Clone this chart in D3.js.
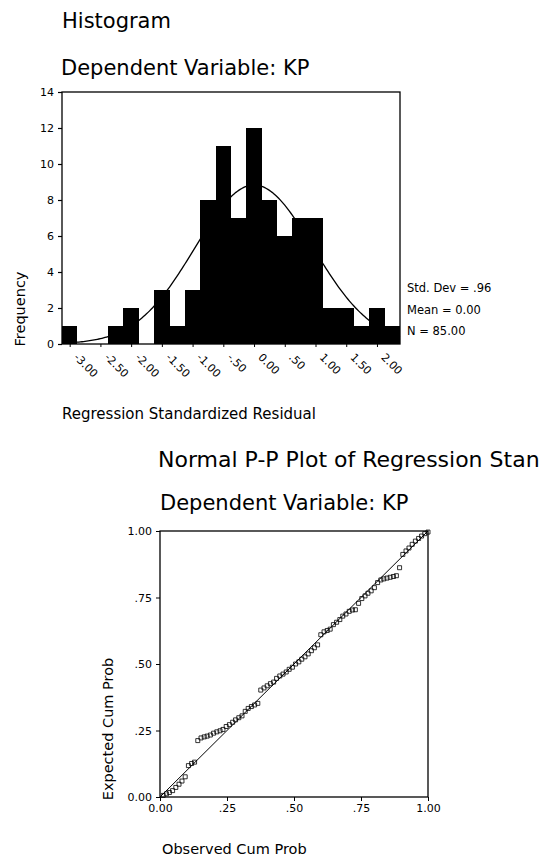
<!DOCTYPE html>
<html>
<head>
<meta charset="utf-8">
<script src="https://cdnjs.cloudflare.com/ajax/libs/d3/7.8.5/d3.min.js"></script>
<style>
body{margin:0;background:#fff;}
svg{display:block;}
text{font-family:"DejaVu Sans",sans-serif;fill:#000;}
</style>
</head>
<body>
<script>
var w = 540;
var h = 856;

// histogram: bin midpoints and frequencies
var binMids = [-3.00,-2.75,-2.50,-2.25,-2.00,-1.75,-1.50,-1.25,-1.00,-0.75,-0.50,-0.25,
               0.00,0.25,0.50,0.75,1.00,1.25,1.50,1.75,2.00,2.25];
var counts = [1,0,0,1,2,0,3,1,3,8,11,7,12,8,6,7,7,2,2,1,2,1];
var binWidth = 0.25;
var xTickVals = [-3.0,-2.5,-2.0,-1.5,-1.0,-0.5,0.0,0.5,1.0,1.5,2.0];
var xTickLabels = ["-3.00","-2.50","-2.00","-1.50","-1.00","-.50","0.00",".50","1.00","1.50","2.00"];
var yTickVals = [0,2,4,6,8,10,12,14];
var mean = 0.00;
var stdDev = 0.96;
var n = 85;
var legendLines = ["Std. Dev = .96","Mean = 0.00","N = 85.00"];

// normal P-P plot
var observed = [.012,.024,.035,.047,.059,.071,.082,.094,.106,.118,.129,.141,.153,.165,.176,.188,.200,
                .212,.224,.235,.247,.259,.271,.282,.294,.306,.318,.329,.341,.353,.365,.376,.388,.400,
                .412,.424,.435,.447,.459,.471,.482,.494,.506,.518,.529,.541,.553,.565,.576,.588,.600,
                .612,.624,.635,.647,.659,.671,.682,.694,.706,.718,.729,.741,.753,.765,.776,.788,.800,
                .812,.824,.835,.847,.859,.871,.882,.894,.906,.918,.929,.941,.953,.965,.976,.988,1.000];
var expected = [.006,.012,.017,.024,.036,.048,.060,.076,.118,.126,.131,.212,.222,.226,.229,.233,.240,
                .245,.249,.254,.265,.272,.281,.290,.298,.305,.322,.333,.340,.346,.352,.402,.410,.418,
                .426,.432,.446,.455,.462,.470,.480,.488,.500,.508,.518,.527,.538,.550,.561,.572,.610,
                .621,.626,.631,.648,.657,.667,.680,.688,.698,.703,.704,.728,.746,.756,.766,.775,.787,
                .806,.816,.820,.823,.826,.829,.832,.862,.912,.925,.936,.950,.962,.972,.981,.990,.996];
var ppTickVals = [0,0.25,0.5,0.75,1];
var ppTickLabels = ["0.00",".25",".50",".75","1.00"];

var svg = d3.select("body").append("svg").attr("width",w).attr("height",h);
svg.append("rect").attr("width",w).attr("height",h).attr("fill","#fff");

// ---------- histogram ----------
var hx = d3.scaleLinear().domain([-3.125,2.375]).range([62,400]);
var hy = d3.scaleLinear().domain([0,14]).range([344,92]);

svg.append("text").attr("x",62).attr("y",28).attr("font-size",21).text("Histogram");
svg.append("text").attr("x",61).attr("y",75).attr("font-size",21).text("Dependent Variable: KP");

svg.selectAll("rect.bar")
.data(counts)
.enter()
.append("rect")
.attr("class","bar")
.attr("x",function(d,i){return hx(binMids[i]-binWidth/2);})
.attr("y",function(d){return hy(d);})
.attr("width",hx(binWidth)-hx(0))
.attr("height",function(d){return hy(0)-hy(d);})
.attr("fill","#000")
.attr("shape-rendering","crispEdges");

// fitted normal curve from the stats in the legend
var curvePts = d3.range(-3.125,2.376,0.025).map(function(v){
  var z = (v-mean)/stdDev;
  return [v, n*binWidth/(stdDev*Math.sqrt(2*Math.PI))*Math.exp(-0.5*z*z)];
});
svg.append("path")
.datum(curvePts)
.attr("d",d3.line().x(function(d){return hx(d[0]);}).y(function(d){return hy(d[1]);}))
.attr("fill","none")
.attr("stroke","#000")
.attr("stroke-width",1.3);

svg.append("rect").attr("x",62).attr("y",92).attr("width",338).attr("height",252)
.attr("fill","none").attr("stroke","#000").attr("stroke-width",1.3);

var hyAxis = svg.append("g").attr("transform","translate(62,0)")
.call(d3.axisLeft(hy).tickValues(yTickVals).tickSize(4).tickPadding(4));
hyAxis.select(".domain").remove();
hyAxis.selectAll("text").attr("font-size",11).attr("font-family","DejaVu Sans");
hyAxis.selectAll("line").attr("stroke-width",1.2);

var hxAxis = svg.append("g").attr("transform","translate(0,344)")
.call(d3.axisBottom(hx).tickValues(xTickVals).tickFormat(function(d,i){return xTickLabels[i];}).tickSize(3));
hxAxis.select(".domain").remove();
hxAxis.selectAll("text")
.attr("x",0).attr("y",0).attr("dy",0)
.attr("text-anchor","start")
.attr("transform","translate(3,14) rotate(45)")
.attr("font-size",11).attr("font-family","DejaVu Sans");

svg.append("text").attr("transform","translate(25,309) rotate(-90)")
.attr("text-anchor","middle").attr("font-size",14.5).text("Frequency");

svg.append("text").attr("x",62).attr("y",419).attr("font-size",15).text("Regression Standardized Residual");

svg.selectAll("text.legend")
.data(legendLines)
.enter()
.append("text")
.attr("class","legend")
.attr("x",407)
.attr("y",function(d,i){return 292+i*21.5;})
.attr("font-size",11.5)
.text(function(d){return d;});

// ---------- normal P-P plot ----------
var px = d3.scaleLinear().domain([0,1]).range([160,428]);
var py = d3.scaleLinear().domain([0,1]).range([797,531]);

// the title runs past the right edge, as in the reference
svg.append("text").attr("x",158).attr("y",467).attr("font-size",22)
.text("Normal P-P Plot of Regression Standardized Residual");
svg.append("text").attr("x",160).attr("y",510).attr("font-size",21).text("Dependent Variable: KP");

svg.append("line")
.attr("x1",px(0)).attr("y1",py(0)).attr("x2",px(1)).attr("y2",py(1))
.attr("stroke","#000").attr("stroke-width",1);

svg.selectAll("path.pt")
.data(observed)
.enter()
.append("path")
.attr("class","pt")
.attr("transform",function(d,i){return "translate("+px(d)+","+py(expected[i])+")";})
.attr("d",d3.symbol().type(d3.symbolSquare).size(16))
.attr("fill","none")
.attr("stroke","#000")
.attr("stroke-width",0.8);

svg.append("rect").attr("x",160).attr("y",531).attr("width",268).attr("height",266)
.attr("fill","none").attr("stroke","#000").attr("stroke-width",1.3);

var pyAxis = svg.append("g").attr("transform","translate(160,0)")
.call(d3.axisLeft(py).tickValues(ppTickVals).tickFormat(function(d,i){return ppTickLabels[i];}).tickSize(4).tickPadding(4));
pyAxis.select(".domain").remove();
pyAxis.selectAll("text").attr("font-size",11).attr("font-family","DejaVu Sans");

var pxAxis = svg.append("g").attr("transform","translate(0,797)")
.call(d3.axisBottom(px).tickValues(ppTickVals).tickFormat(function(d,i){return ppTickLabels[i];}).tickSize(4).tickPadding(3));
pxAxis.select(".domain").remove();
pxAxis.selectAll("text").attr("font-size",11).attr("font-family","DejaVu Sans");

svg.append("text").attr("transform","translate(113,729) rotate(-90)")
.attr("text-anchor","middle").attr("font-size",14.5).text("Expected Cum Prob");

svg.append("text").attr("x",162).attr("y",854).attr("font-size",14.5).text("Observed Cum Prob");
</script>
</body>
</html>
